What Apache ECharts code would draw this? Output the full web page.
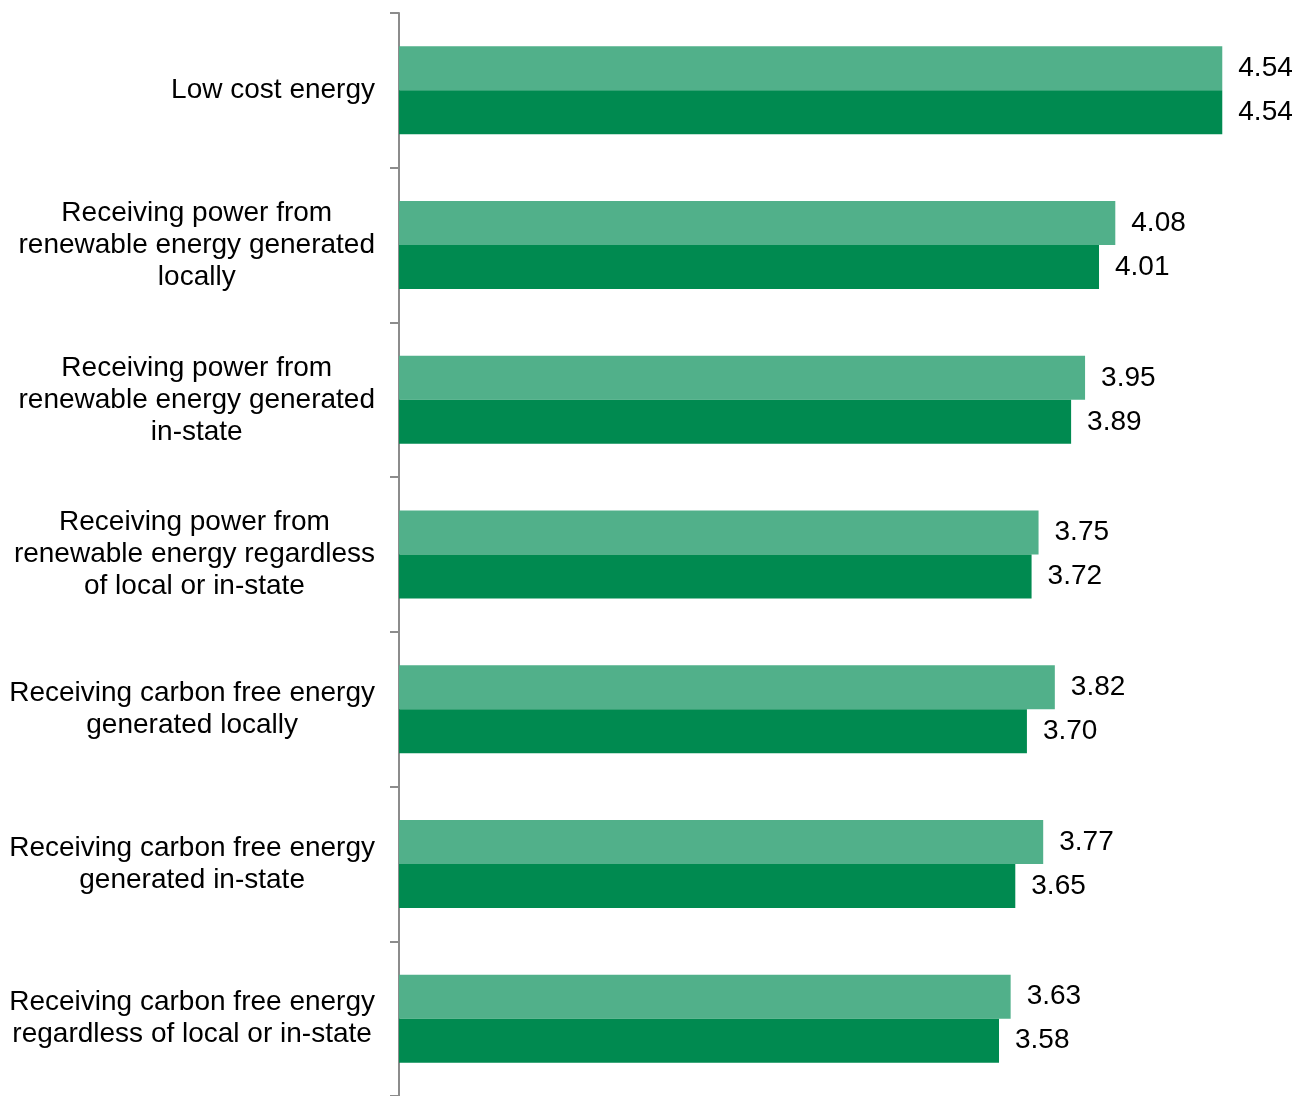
<!DOCTYPE html>
<html>
<head>
<meta charset="utf-8">
<script src="https://cdn.jsdelivr.net/npm/echarts@6/dist/echarts.min.js"></script>
<style>
  html, body { margin: 0; padding: 0; background: #fff; }
  #chart { width: 1306px; height: 1096px; }
</style>
</head>
<body>
<div id="chart"></div>
<script>
// categories, top to bottom
const categories = [
  "Low cost energy",
  "Receiving power from\nrenewable energy generated\nlocally",
  "Receiving power from\nrenewable energy generated\nin-state",
  "Receiving power from\nrenewable energy regardless\nof local or in-state",
  "Receiving carbon free energy\ngenerated locally",
  "Receiving carbon free energy\ngenerated in-state",
  "Receiving carbon free energy\nregardless of local or in-state"
];
const lightValues = [4.54, 4.08, 3.95, 3.75, 3.82, 3.77, 3.63];
const darkValues = [4.54, 4.01, 3.89, 3.72, 3.70, 3.65, 3.58];

const font = "'Liberation Sans', Arial, sans-serif";

var myChart = echarts.init(document.getElementById("chart"));

const label = {
  show: true,
  position: "right",
  distance: 16,
  color: "#000",
  fontSize: 28,
  fontFamily: font,
  formatter: (p) => p.value.toFixed(2)
};

myChart.setOption({
  animation: false,
  grid: { left: 399, top: 13, width: 908, height: 1088 },
  xAxis: {
    type: "value",
    min: 1,
    max: 4.9,
    show: false
  },
  yAxis: {
    type: "category",
    inverse: true,
    data: categories,
    axisLine: { show: true, lineStyle: { color: "#8c8c8c", width: 2 } },
    axisTick: { show: true, length: 9, lineStyle: { color: "#8c8c8c", width: 2 } },
    axisLabel: {
      margin: 24,
      color: "#000",
      fontSize: 28,
      fontFamily: font,
      lineHeight: 32,
      // centre each line inside the right-aligned block
      formatter: (v) => v.split("\n").map((s) => "{c|" + s + "}").join("\n"),
      rich: {
        c: { align: "center", fontSize: 28, fontFamily: font, lineHeight: 32, color: "#000" }
      }
    }
  },
  series: [
    {
      name: "light",
      type: "bar",
      data: lightValues,
      barWidth: 44,
      barGap: "0%",
      itemStyle: { color: "#51b08a" },
      label: label
    },
    {
      name: "dark",
      type: "bar",
      data: darkValues,
      barWidth: 44,
      barGap: "0%",
      itemStyle: { color: "#008a50" },
      label: label
    }
  ]
});
window.addEventListener("resize", () => {
  myChart.resize();
});
</script>
</body>
</html>
